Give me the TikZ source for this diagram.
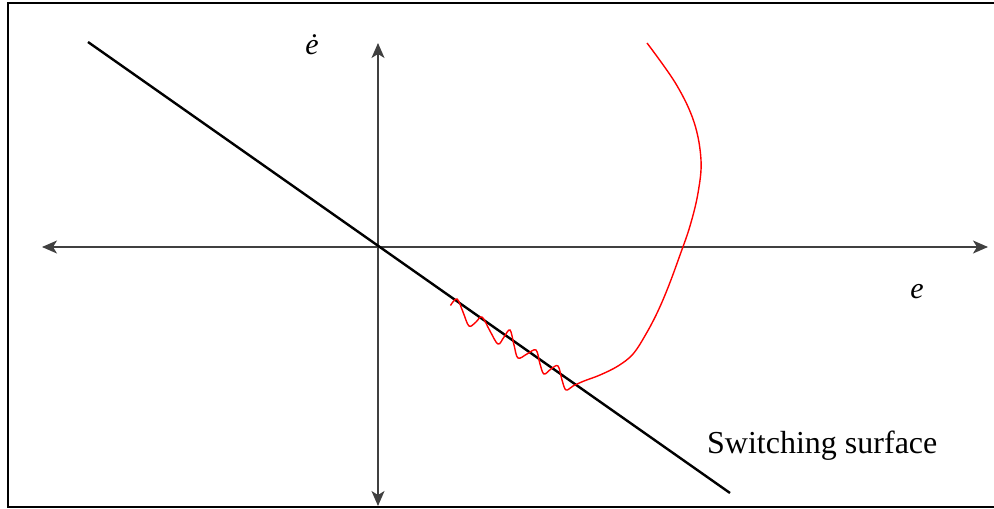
\documentclass[tikz,border=0pt]{standalone}
\usepackage{fontspec}
\setmainfont{Liberation Serif}
\usetikzlibrary{arrows.meta}

\begin{document}
\begin{tikzpicture}[
  x=1pt,y=-1pt,
  axis/.style={draw=black!75,line width=1.3pt,{Stealth[length=15pt,width=13pt,inset=4pt]}-{Stealth[length=15pt,width=13pt,inset=4pt]}},
  surf/.style={draw=black,line width=2.4pt},
  traj/.style={draw=red,line width=1.4pt},
  lbl/.style={inner sep=0pt,font=\fontsize{30}{36}\selectfont\itshape}
]
\useasboundingbox (0,0) rectangle (994,509);
\draw[line width=1.5pt] (994,3) -- (8,3) -- (8,507) -- (994,507);
\coordinate (origin) at (378,247);
\coordinate (eleft) at (42,247);
\coordinate (eright) at (988,247);
\coordinate (edtop) at (378,43);
\coordinate (edbottom) at (378,506);
\coordinate (stop) at (88,42);
\coordinate (sbottom) at (730,493);
\draw[axis] (eleft) -- (eright);
\draw[axis] (edbottom) -- (edtop);
\draw[surf] (stop) -- (sbottom);
\draw[traj] plot[smooth,tension=0.6] coordinates {
  (647,43) (676,84) (694,122) (701,160) (698,193) (690,226)
  (680,255) (669,285) (658,311) (646,334) (633,354) (618,366) (600,375)
  (584,381) (573,386) (566,390) (562,380) (558,366)
  (551,369) (544,374) (540,364) (536,350)
  (527,354) (518,358) (514,345) (510,330)
  (504,337) (498,344) (490,331) (482,317)
  (476,322) (469,326) (463,312) (457,299) (450.5,305.5)};
\node[lbl] (edlabel) at (312,45) {\.{e}};
\node[lbl] (elabel) at (917,292) {e};
\node[inner sep=0pt,anchor=base west,font=\fontsize{32}{38}\selectfont] (slabel) at (707,453) {Switching surface};
\end{tikzpicture}
\end{document}
